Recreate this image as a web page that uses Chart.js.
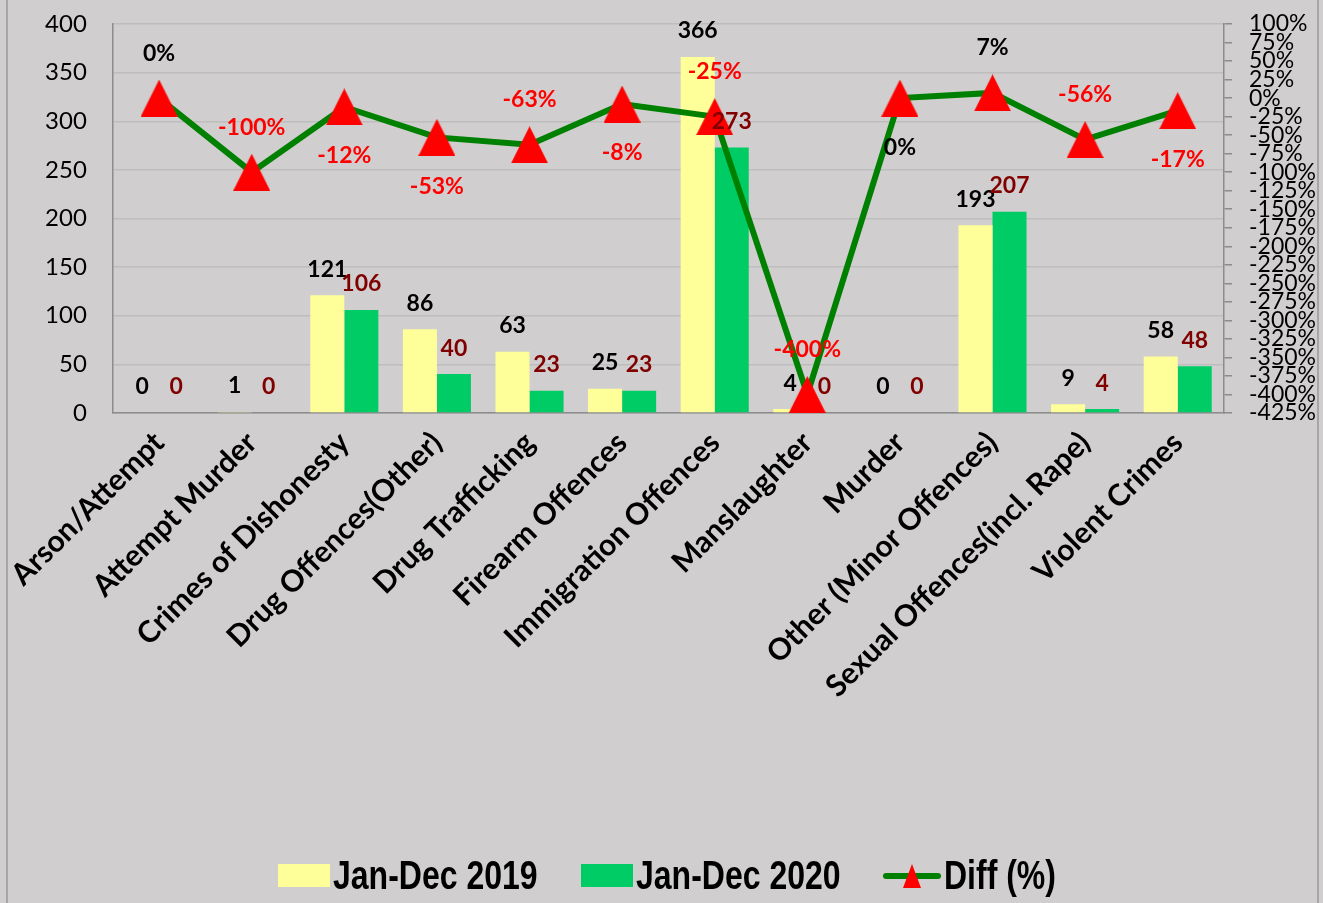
<!DOCTYPE html>
<html>
<head>
<meta charset="utf-8">
<script src="https://cdn.jsdelivr.net/npm/chart.js@4.4.1/dist/chart.umd.min.js"></script>
<style>
    html, body { margin: 0; padding: 0; background: #d0cece; }
    #wrap { position: relative; width: 1323px; height: 903px; overflow: hidden; }
    #wrap::before { content: ''; position: absolute; left: 6px; top: 0; bottom: 0; width: 2px; background: #a6a6a6; }
    #wrap::after  { content: ''; position: absolute; left: 1317px; top: 0; bottom: 0; width: 2px; background: #a6a6a6; }
    canvas { display: block; }
    .legend { position: absolute; top: 853px; left: 0; width: 1323px; height: 44px; }
    .lg-item { position: absolute; top: 0; height: 44px; display: flex; align-items: center;
               font-family: 'Liberation Sans', Arial, sans-serif; font-weight: bold;
               font-size: 32px; color: #000; }
    .lg-item span { display: inline-block; transform: scaleY(1.25); }
    .lg-box { width: 52px; height: 23px; margin-right: 3px; }
    .lg-line { position: relative; width: 58px; height: 23px; margin-right: 3px; }
    .lg-line::before { content: ''; position: absolute; left: 0; right: 0; top: 9px; height: 6px; border-radius: 3px; background: #008000; }
    .lg-line::after { content: ''; position: absolute; left: 20px; top: 0; width: 0; height: 0;
                      border-left: 9px solid transparent; border-right: 9px solid transparent; border-bottom: 24px solid #ff0000; }
</style>
</head>
<body>
<div id="wrap">
    <canvas id="crimeChart" width="1323" height="903"></canvas>
    <div class="legend">
        <div class="lg-item" style="left:278px"><div class="lg-box" style="background:#ffff99"></div><span>Jan-Dec 2019</span></div>
        <div class="lg-item" style="left:581px"><div class="lg-box" style="background:#00cc66"></div><span>Jan-Dec 2020</span></div>
        <div class="lg-item" style="left:883px"><div class="lg-line"></div><span>Diff (%)</span></div>
    </div>
</div>
<script>
const categories = [
    'Arson/Attempt', 'Attempt Murder', 'Crimes of Dishonesty', 'Drug Offences(Other)',
    'Drug Trafficking', 'Firearm Offences', 'Immigration Offences', 'Manslaughter',
    'Murder', 'Other (Minor Offences)', 'Sexual Offences(incl. Rape)', 'Violent Crimes'
];
const values2019 = [0, 1, 121, 86, 63, 25, 366, 4, 0, 193, 9, 58];
const values2020 = [0, 0, 106, 40, 23, 23, 273, 0, 0, 207, 4, 48];
const diffPct    = [0, -100, -12, -53, -63, -8, -25, -400, 0, 7, -56, -17];
const leftTicks  = [0, 50, 100, 150, 200, 250, 300, 350, 400];

// where each diff label sits relative to its marker
const diffLabelSide = ['up', 'up', 'down', 'down', 'up', 'down', 'up', 'up', 'down', 'up', 'up', 'down'];

// triangle marker as an image so it comes out as wide as it is tall
function makeTriangle(size) {
    const c = document.createElement('canvas');
    c.width = size; c.height = size;
    const g = c.getContext('2d');
    g.fillStyle = '#ff0000';
    g.beginPath();
    g.moveTo(size / 2, 0);
    g.lineTo(size, size);
    g.lineTo(0, size);
    g.closePath();
    g.fill();
    return c;
}
const triangle = makeTriangle(37);

// tick padding would otherwise push the plot area down
function flatPadding(s) {
    s.paddingTop = 0;
    s.paddingBottom = 0;
}

const valueLabels = {
    id: 'valueLabels',
    afterDatasetsDraw(chart) {
        const ctx = chart.ctx;
        ctx.save();
        ctx.textAlign = 'center';
        ctx.textBaseline = 'middle';
        ctx.font = 'bold 23px Lato, sans-serif';

        const barColors = ['#000000', '#800000'];
        [0, 1].forEach(di => {
            const meta = chart.getDatasetMeta(di);
            meta.data.forEach((el, i) => {
                ctx.fillStyle = barColors[di];
                ctx.fillText(String(chart.data.datasets[di].data[i]), el.x, el.y - 26);
            });
        });

        const lineMeta = chart.getDatasetMeta(2);
        lineMeta.data.forEach((el, i) => {
            const v = diffPct[i];
            ctx.fillStyle = v < 0 ? '#ff0000' : '#000000';
            const dy = diffLabelSide[i] === 'up' ? -45 : 49;
            ctx.fillText(v + '%', el.x, el.y + dy);
        });
        ctx.restore();
    }
};

new Chart(document.getElementById('crimeChart').getContext('2d'), {
    type: 'bar',
    data: {
        labels: categories,
        datasets: [
            {
                label: 'Jan-Dec 2019',
                data: values2019,
                backgroundColor: '#ffff99',
                yAxisID: 'y',
                order: 2,
                categoryPercentage: 0.735,
                barPercentage: 1.0,
            },
            {
                label: 'Jan-Dec 2020',
                data: values2020,
                backgroundColor: '#00cc66',
                yAxisID: 'y',
                order: 2,
                categoryPercentage: 0.735,
                barPercentage: 1.0,
            },
            {
                type: 'line',
                label: 'Diff (%)',
                data: diffPct,
                yAxisID: 'y1',
                order: 1,
                borderColor: '#008000',
                borderWidth: 6,
                tension: 0,
                pointStyle: triangle,
                pointRadius: 18,
                pointHoverRadius: 18,
            }
        ]
    },
    options: {
        responsive: false,
        animation: false,
        layout: { padding: { top: 22, right: 6, bottom: 0, left: 0 } },
        plugins: {
            legend: { display: false },
            tooltip: { enabled: false }
        },
        scales: {
            x: {
                grid: { display: false, drawTicks: false },
                border: { color: '#8c8c8c', width: 1.5 },
                ticks: {
                    color: '#000',
                    font: { family: 'Lato', weight: 'bold', size: 30 },
                    maxRotation: 45,
                    minRotation: 45,
                    autoSkip: false,
                    padding: 12,
                },
                afterFit: s => { s.height = 490; }
            },
            y: {
                position: 'left',
                min: 0,
                max: 400,
                afterBuildTicks: s => { s.ticks = leftTicks.map(v => ({ value: v })); },
                grid: { color: '#bdbdbd', lineWidth: 1.5, drawTicks: false },
                border: { color: '#8c8c8c', width: 1.5 },
                ticks: {
                    color: '#000',
                    font: { family: 'Lato', size: 24 },
                    padding: 26,
                },
                afterFit: s => { s.width = 111; flatPadding(s); }
            },
            y1: {
                position: 'right',
                min: -425,
                max: 100,
                grid: { drawOnChartArea: false, color: '#8c8c8c', tickLength: 8, lineWidth: 1.5 },
                border: { color: '#8c8c8c', width: 1.5 },
                ticks: {
                    stepSize: 25,
                    autoSkip: false,
                    color: '#000',
                    font: { family: 'Lato', size: 23, lineHeight: 0.8 },
                    padding: 17,
                    callback: v => v + '%'
                },
                afterFit: s => { s.width = 93; flatPadding(s); }
            }
        }
    },
    plugins: [valueLabels]
});
</script>
</body>
</html>
